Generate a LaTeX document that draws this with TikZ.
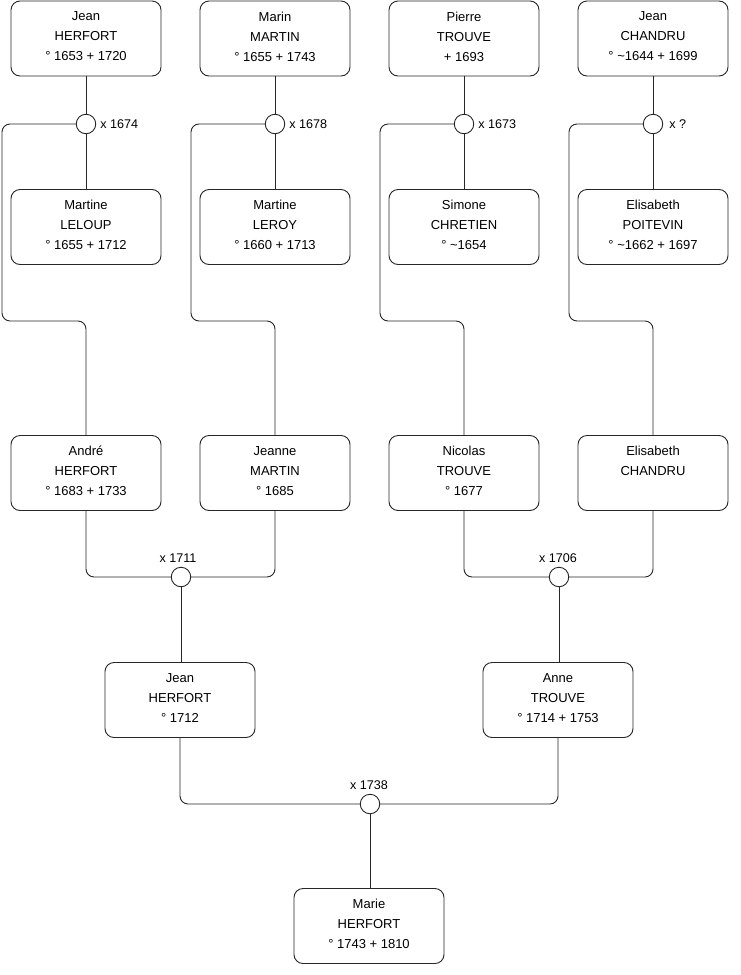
\documentclass[tikz,border=0pt]{standalone}
\usepackage{fontspec}
\setmainfont{Liberation Sans}
\begin{document}
\begin{tikzpicture}[x=1pt,y=-1pt,
  person/.style={draw=black!85,line width=0.9pt,rounded corners=9pt,minimum width=150pt,minimum height=75pt,align=center,inner sep=0pt,font=\fontsize{13}{20}\selectfont,execute at end node={\rule[-4pt]{0pt}{1pt}}},
  wed/.style={draw=black!85,line width=0.9pt,circle,minimum size=19.5pt,inner sep=0pt,fill=white},
  lbl/.style={font=\fontsize{12.6}{14}\selectfont,inner sep=0pt},
  link/.style={draw=black!85,line width=0.9pt,rounded corners=8pt}]
\useasboundingbox (0,0) rectangle (740,975);
% top row
\node[person] (b1) at (86,38.5) {Jean\\HERFORT\\° 1653 + 1720};
\node[person] (b2) at (275,38.5) {Marin\\MARTIN\\° 1655 + 1743};
\node[person] (b3) at (464,38.5) {Pierre\\TROUVE\\+ 1693};
\node[person] (b4) at (653,38.5) {Jean\\CHANDRU\\° \textasciitilde 1644 + 1699};
% second row
\node[person] (b5) at (86,227) {Martine\\LELOUP\\° 1655 + 1712};
\node[person] (b6) at (275,227) {Martine\\LEROY\\° 1660 + 1713};
\node[person] (b7) at (464,227) {Simone\\CHRETIEN\\° \textasciitilde 1654};
\node[person] (b8) at (653,227) {Elisabeth\\POITEVIN\\° \textasciitilde 1662 + 1697};
% third row
\node[person] (b9) at (86,473) {André\\HERFORT\\° 1683 + 1733};
\node[person] (b10) at (275,473) {Jeanne\\MARTIN\\° 1685};
\node[person] (b11) at (464,473) {Nicolas\\TROUVE\\° 1677};
\node[person] (b12) at (653,473) {Elisabeth\\CHANDRU\\\phantom{0}};
% fourth row
\node[person] (b13) at (180,700) {Jean\\HERFORT\\° 1712};
\node[person] (b14) at (558,700) {Anne\\TROUVE\\° 1714 + 1753};
% bottom
\node[person] (b15) at (369,926) {Marie\\HERFORT\\° 1743 + 1810};
% marriages
\node[wed] (m1) at (86,124) {};
\node[wed] (m2) at (275,124) {};
\node[wed] (m3) at (464,124) {};
\node[wed] (m4) at (653,124) {};
\node[wed] (m5) at (181,577) {};
\node[wed] (m6) at (559,577) {};
\node[wed] (m7) at (370,804) {};
% labels
\node[lbl,anchor=west] (l1) at ([xshift=4pt]m1.east) {x 1674};
\node[lbl,anchor=west] (l2) at ([xshift=4pt]m2.east) {x 1678};
\node[lbl,anchor=west] (l3) at ([xshift=4pt]m3.east) {x 1673};
\node[lbl,anchor=west] (l4) at ([xshift=6pt]m4.east) {x ?};
\node[lbl,anchor=base] (l5) at ([xshift=-3pt,yshift=4.5pt]m5.north) {x 1711};
\node[lbl,anchor=base] (l6) at ([xshift=-1pt,yshift=4.5pt]m6.north) {x 1706};
\node[lbl,anchor=base] (l7) at ([xshift=-1pt,yshift=4.5pt]m7.north) {x 1738};
% top connectors
\foreach \p/\m/\c in {b1/m1/b5, b2/m2/b6, b3/m3/b7, b4/m4/b8}{
  \draw[link] (\p.south) -- (\m.north);
  \draw[link] (\m.south) -- (\c.north);
}
\draw[link] (m1.west) -| (2,321) -| (b9.north);
\draw[link] (m2.west) -| (191,321) -| (b10.north);
\draw[link] (m3.west) -| (380,321) -| (b11.north);
\draw[link] (m4.west) -| (569,321) -| (b12.north);
% third row connectors
\draw[link] (b9.south) |- (m5.west);
\draw[link] (b10.south) |- (m5.east);
\draw[link] (m5.south) -- (b13.north -| m5.south);
\draw[link] (b11.south) |- (m6.west);
\draw[link] (b12.south) |- (m6.east);
\draw[link] (m6.south) -- (b14.north -| m6.south);
% fourth row connectors
\draw[link] (b13.south) |- (m7.west);
\draw[link] (b14.south) |- (m7.east);
\draw[link] (m7.south) -- (b15.north -| m7.south);
\end{tikzpicture}
\end{document}
